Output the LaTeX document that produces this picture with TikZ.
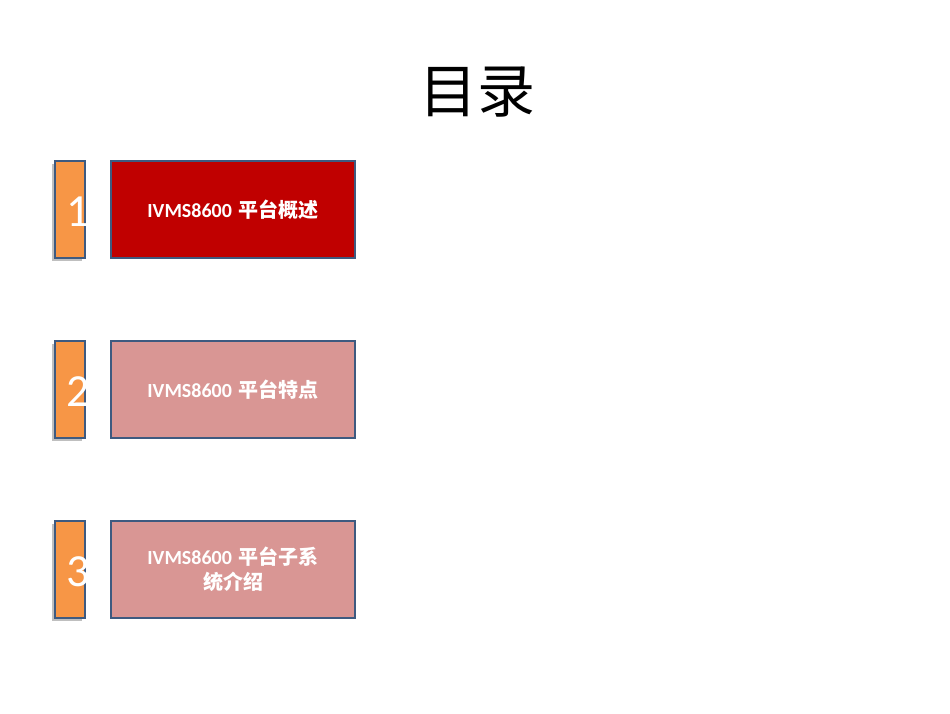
\documentclass[tikz,border=0pt]{standalone}
\usepackage{fontspec}
\setmainfont{Carlito}
\newfontfamily\cjk{Noto Sans CJK SC}
\usetikzlibrary{shadows}
\definecolor{bord}{HTML}{3E5A80}
\definecolor{orng}{HTML}{F79646}
\definecolor{darkred}{HTML}{C00000}
\definecolor{pinkred}{HTML}{D99694}
\tikzset{
 bar/.style={draw=bord,line width=1.2pt,fill=orng,minimum width=30pt,minimum height=97pt,inner sep=0pt,drop shadow={shadow xshift=-3pt,shadow yshift=-3pt,opacity=0.5}},
 num/.style={text=white,font=\fontsize{46}{46}\selectfont},
 box/.style={draw=bord,line width=1.2pt,minimum width=244pt,minimum height=97pt,text width=220pt,align=center,text=white,font=\fontsize{20}{25}\selectfont\bfseries},
}
\begin{document}
\begin{tikzpicture}[x=1pt,y=1pt]
\useasboundingbox (0,0) rectangle (950,-713);
\fill[white] (0,0) rectangle (950,-713);
\node (title) at (477,-92) {\cjk\fontsize{58}{58}\selectfont 目录};
\node[bar] (b1) at (70,-209.5) {};
\node[bar] (b2) at (70,-389.5) {};
\node[bar] (b3) at (70,-569.5) {};
\node[num] (n1) at (78,-212) {1};
\node[num] (n2) at (78,-392) {2};
\node[num] (n3) at (78,-572) {3};
\node[box,fill=darkred] (t1) at (233,-209.5) {IVMS8600 {\cjk\bfseries 平台概述}};
\node[box,fill=pinkred] (t2) at (233,-389.5) {IVMS8600 {\cjk\bfseries 平台特点}};
\node[box,fill=pinkred] (t3) at (233,-569.5) {IVMS8600 {\cjk\bfseries 平台子系\\统介绍}};
\end{tikzpicture}
\end{document}
